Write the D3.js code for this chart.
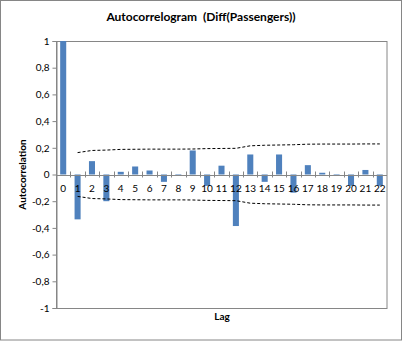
<!DOCTYPE html>
<html><head><meta charset="utf-8">
<script src="https://cdn.jsdelivr.net/npm/d3@7"></script>
<style>body{margin:0;background:#fff}svg{display:block}text{font-family:Lato,"Open Sans",sans-serif}</style>
</head><body><svg id="c" width="403" height="341"></svg>
<script>
const lags = d3.range(0, 23).map(String);
const acf = [1, -0.336, 0.10, -0.20, 0.02, 0.06, 0.03, -0.055, -0.01, 0.18, -0.085, 0.066,
             -0.386, 0.15, -0.055, 0.15, -0.136, 0.07, 0.013, -0.01, -0.085, 0.034, -0.085];
const confLags = d3.range(1, 23).map(String);
const conf = [0.164, 0.180, 0.183, 0.188, 0.189, 0.190, 0.190, 0.190, 0.191, 0.194, 0.195,
              0.196, 0.215, 0.219, 0.221, 0.223, 0.227, 0.228, 0.228, 0.228, 0.229, 0.229];
const yTicks = [-1, -0.8, -0.6, -0.4, -0.2, 0, 0.2, 0.4, 0.6, 0.8, 1];
const title = "Autocorrelogram  (Diff(Passengers))";

const svg = d3.select("#c");
const L = 56, R = 387, T = 41, B = 308;
const x = d3.scaleBand().domain(lags).range([L, R]).padding(0);
const y = d3.scaleLinear().domain([-1, 1]).range([B, T]);
const bw = x.bandwidth(), barW = bw * 0.42;
const fmt = v => (v === 0 ? "0" : String(+v.toFixed(1)).replace(".", ","));

svg.append("rect").attr("x", 0.5).attr("y", 0.5).attr("width", 401).attr("height", 339.5)
  .attr("fill", "#fff").attr("stroke", "#868686");

svg.append("text").attr("x", 201).attr("y", 21).attr("text-anchor", "middle")
  .style("white-space", "pre")
  .attr("font-size", 12).attr("font-weight", "bold").attr("fill", "#000").text(title);

// plot area border
svg.append("rect").attr("x", L + 0.5).attr("y", T + 0.5).attr("width", R - L - 0.5).attr("height", B - T)
  .attr("fill", "none").attr("stroke", "#868686");

// y axis
const yAxis = svg.append("g").attr("transform", `translate(${L + 0.5},0)`)
  .call(d3.axisLeft(y).tickValues(yTicks).tickFormat(fmt).tickSize(4).tickPadding(3));
yAxis.select(".domain").attr("stroke", "#868686");
yAxis.selectAll(".tick line").attr("stroke", "#868686");
yAxis.selectAll("text").attr("font-size", 10).attr("fill", "#000").style("font-family", "Lato");

// bars
svg.append("g").selectAll("rect").data(acf).join("rect")
  .attr("x", (d, i) => x(lags[i]) + (bw - barW) / 2)
  .attr("width", barW)
  .attr("y", d => y(Math.max(0, d)))
  .attr("height", d => Math.abs(y(d) - y(0)))
  .attr("fill", "#4F81BD");

// zero axis
const y0 = Math.round(y(0)) + 0.5;
svg.append("line").attr("x1", L).attr("x2", R).attr("y1", y0).attr("y2", y0).attr("stroke", "#868686");
svg.append("g").selectAll("line").data(d3.range(1, lags.length)).join("line")
  .attr("x1", i => Math.round(L + i * bw) + 0.5).attr("x2", i => Math.round(L + i * bw) + 0.5)
  .attr("y1", y0 - 4).attr("y2", y0 + 2).attr("stroke", "#868686");
svg.append("g").selectAll("text").data(lags).join("text")
  .attr("x", d => x(d) + bw / 2).attr("y", y0 + 16).attr("text-anchor", "middle")
  .attr("font-size", 10).attr("fill", "#000").text(d => d);

// confidence bands
const line = d3.line().x((d, i) => x(confLags[i]) + bw / 2).y(d => y(d));
[1, -1].forEach(s => {
  svg.append("path").datum(conf.map(v => s * v)).attr("d", line)
    .attr("fill", "none").attr("stroke", "#000").attr("stroke-width", 1).attr("stroke-dasharray", "3,2");
});

// axis titles
svg.append("text").attr("transform", `translate(26,${(T + B) / 2}) rotate(-90)`)
  .attr("text-anchor", "middle").attr("font-size", 10).attr("font-weight", "bold").text("Autocorrelation");
svg.append("text").attr("x", 222).attr("y", 320).attr("text-anchor", "middle")
  .attr("font-size", 10).attr("font-weight", "bold").text("Lag");
</script></body></html>
